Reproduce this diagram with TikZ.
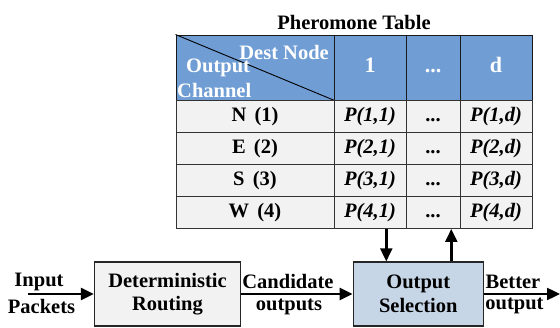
\documentclass[tikz,border=0pt]{standalone}
\usepackage{fontspec}
\setmainfont{Liberation Serif}
\usetikzlibrary{positioning}
\usetikzlibrary{arrows.meta}

\definecolor{headblue}{RGB}{112,157,212}
\definecolor{selblue}{RGB}{199,214,231}
\definecolor{cellgray}{RGB}{242,242,242}

\newcommand{\figfont}{\fontsize{20.5}{23.5}\selectfont\bfseries}
\newcommand{\bigfigfont}{\fontsize{22}{25}\selectfont\bfseries}

\tikzset{
	cell/.style={draw=black!80, line width=0.9pt, fill=cellgray, minimum height=32pt, inner sep=0pt, text height=14pt, text depth=4pt, font=\figfont},
	headcell/.style={cell, draw=black!90, fill=headblue, text=white, minimum height=65pt, font=\bigfigfont},
	block/.style={draw=black!85, line width=1.3pt, minimum height=64pt, inner sep=0pt, align=center, font=\figfont},
	flow/.style={line width=2.4pt, -{Triangle[length=13pt,width=12pt]}},
	lbl/.style={inner sep=0pt, font=\figfont}
}

\begin{document}
\begin{tikzpicture}[x=1pt, y=-1pt]
	\useasboundingbox (0,0) rectangle (560,328);

	% pheromone table
	\node[lbl] (title) at (354,22) {Pheromone Table};
	\node[headcell, minimum width=158pt] (hd0) at (255,67.5) {};
	\node[headcell, minimum width=72pt] (hd1) at (370,67.5) {1};
	\node[headcell, minimum width=54pt] (hd2) at (433,67.5) {...};
	\node[headcell, minimum width=72pt] (hd3) at (496,67.5) {d};
	\draw[line width=0.9pt] (hd0.north west) -- (hd0.south east);
	\node[lbl, text=white, anchor=east] (dest) at (329,52) {Dest Node};
	\node[lbl, text=white, anchor=west] (chan1) at (186,68) {Output};
	\node[lbl, text=white, anchor=west] (chan2) at (177,90) {Channel};

	\foreach \lab/\r [count=\i] in {N/1, E/2, S/3, W/4} {
		\node[cell, minimum width=158pt] (r\i-0) at (255,84.5+32*\i) {\lab\hspace{0.4em}(\r)};
		\node[cell, minimum width=72pt] (r\i-1) at (370,84.5+32*\i) {\itshape P(\r,1)};
		\node[cell, minimum width=54pt] (r\i-2) at (433,84.5+32*\i) {...};
		\node[cell, minimum width=72pt] (r\i-3) at (496,84.5+32*\i) {\itshape P(\r,d)};
	}

	% routing stages
	\node[block, fill=cellgray, minimum width=146pt] (route) at (167.5,294) {Deterministic\\Routing};
	\node[block, fill=selblue, minimum width=130pt] (select) at (418.3,294) {Output\\Selection};

	\coordinate (in) at (28,294);
	\coordinate (out) at (560,294);
	\draw[flow] (in) -- (route);
	\draw[flow] (route) -- (select);
	\draw[flow] (select) -- (out);
	\draw[flow] ([xshift=-32pt]select.north |- r4-1.south) -- ([xshift=-32pt]select.north);
	\draw[flow] ([xshift=33pt]select.north) -- ([xshift=33pt]select.north |- r4-2.south);

	\node[lbl] (inp1) at (39,281.7) {Input};
	\node[lbl] (inp2) at (41.5,306) {Packets};
	\node[lbl] (cand1) at (288,281.7) {Candidate};
	\node[lbl] (cand2) at (289,306.7) {outputs};
	\node[lbl] (best1) at (513,281.7) {Better};
	\node[lbl] (best2) at (514.5,306) {output};
\end{tikzpicture}
\end{document}
